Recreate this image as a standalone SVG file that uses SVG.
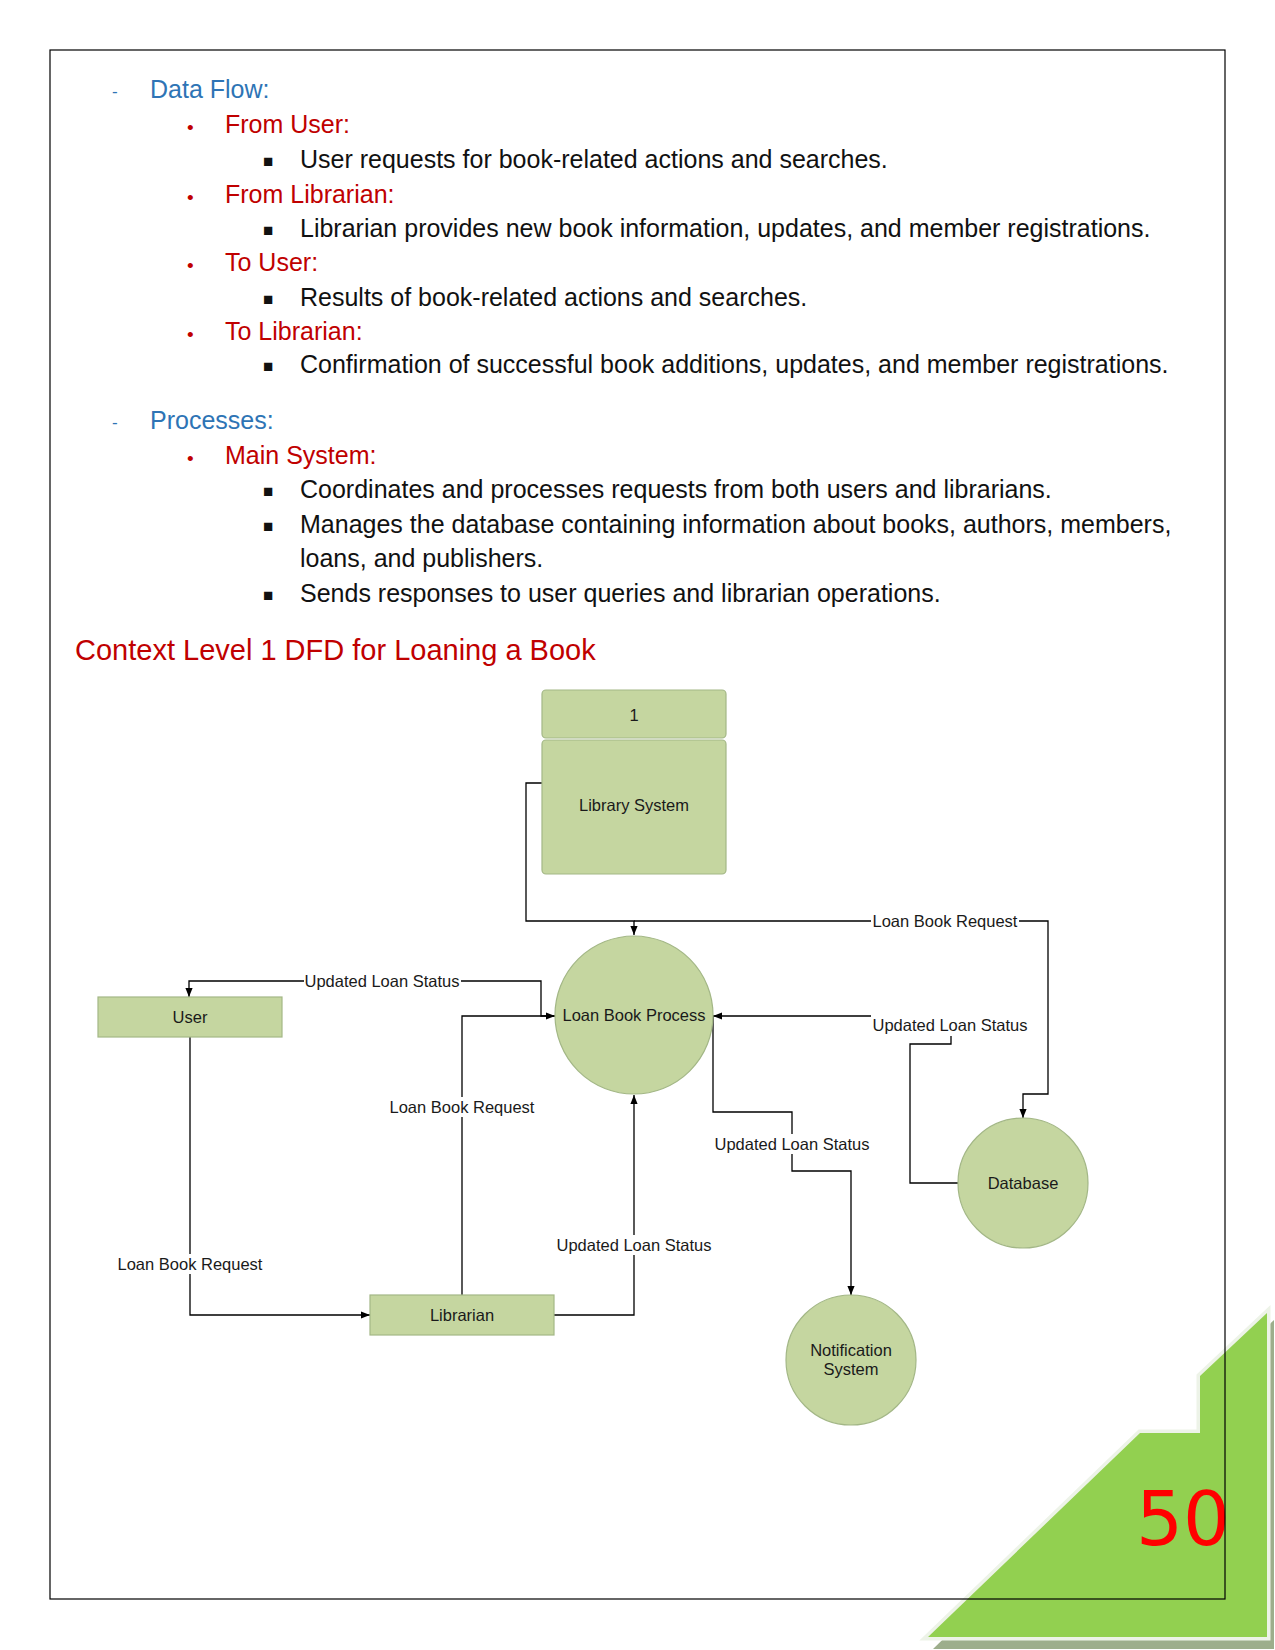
<svg xmlns="http://www.w3.org/2000/svg" width="1275" height="1650" viewBox="0 0 1275 1650">
<style>
  .h { font-family: "Liberation Sans", Arial, sans-serif; font-size: 25px; fill: #2E74B5; }
  .hd { font-family: "Liberation Sans", Arial, sans-serif; font-size: 17px; fill: #2E74B5; }
  .s { font-family: "Liberation Sans", Arial, sans-serif; font-size: 25px; fill: #C00000; }
  .sd { font-family: "Liberation Sans", Arial, sans-serif; font-size: 19px; fill: #C00000; }
  .b { font-family: "Liberation Sans", Arial, sans-serif; font-size: 25px; fill: #111111; }
  .sq { font-family: "Liberation Sans", Arial, sans-serif; font-size: 17px; fill: #111111; }
  .title { font-family: "Liberation Sans", Arial, sans-serif; font-size: 29px; fill: #C00000; }
  .n { font-family: "Liberation Sans", Arial, sans-serif; font-size: 16.5px; fill: #1a1a1a; text-anchor: middle; }
  .box { fill: #C5D6A0; stroke: #A3B786; stroke-width: 1.2; }
  .wire { fill: none; stroke: #000; stroke-width: 1.3; }
  .lbg { fill: #ffffff; }
  .pg { font-family: "DejaVu Sans", sans-serif; font-size: 74px; fill: #FF0000; }
</style>
<defs>
  <marker id="arr" viewBox="0 0 10 10" refX="10" refY="5" markerWidth="9" markerHeight="9" markerUnits="userSpaceOnUse" orient="auto">
    <path d="M0,1 L10,5 L0,9 z" fill="#000"/>
  </marker>
</defs>
<rect x="0" y="0" width="1275" height="1650" fill="#ffffff"/>

<!-- corner decoration -->
<g id="corner">
  <polygon points="1274,1320 1274,1649 933,1649 1146,1441 1206,1441 1206,1384" fill="#9DAE8C"/>
  <polygon points="1267,1313 1267,1637 928,1637 1140,1433 1200,1433 1200,1376" fill="#92D050" stroke="#EDF3E8" stroke-width="7" stroke-linejoin="miter"/>
  <polygon points="1267,1313 1267,1637 928,1637 1140,1433 1200,1433 1200,1376" fill="#92D050"/>
  <text class="pg" x="1136" y="1545">50</text>
</g>

<rect x="50" y="50" width="1175" height="1549" fill="none" stroke="#000" stroke-width="1.2"/>

<!-- text block -->
<g id="text">
  <text class="hd" x="112" y="97">-</text>
  <text class="h" x="150" y="98">Data Flow:</text>
  <text class="sd" x="187" y="134">•</text>
  <text class="s" x="225" y="133">From User:</text>
  <text class="sq" x="263" y="167">■</text>
  <text class="b" x="300" y="168">User requests for book-related actions and searches.</text>
  <text class="sd" x="187" y="204">•</text>
  <text class="s" x="225" y="203">From Librarian:</text>
  <text class="sq" x="263" y="236">■</text>
  <text class="b" x="300" y="237">Librarian provides new book information, updates, and member registrations.</text>
  <text class="sd" x="187" y="272">•</text>
  <text class="s" x="225" y="271">To User:</text>
  <text class="sq" x="263" y="305">■</text>
  <text class="b" x="300" y="306">Results of book-related actions and searches.</text>
  <text class="sd" x="187" y="341">•</text>
  <text class="s" x="225" y="340">To Librarian:</text>
  <text class="sq" x="263" y="372">■</text>
  <text class="b" x="300" y="373">Confirmation of successful book additions, updates, and member registrations.</text>

  <text class="hd" x="112" y="428">-</text>
  <text class="h" x="150" y="429">Processes:</text>
  <text class="sd" x="187" y="465">•</text>
  <text class="s" x="225" y="464">Main System:</text>
  <text class="sq" x="263" y="497">■</text>
  <text class="b" x="300" y="498">Coordinates and processes requests from both users and librarians.</text>
  <text class="sq" x="263" y="532">■</text>
  <text class="b" x="300" y="533">Manages the database containing information about books, authors, members,</text>
  <text class="b" x="300" y="567">loans, and publishers.</text>
  <text class="sq" x="263" y="601">■</text>
  <text class="b" x="300" y="602">Sends responses to user queries and librarian operations.</text>

  <text class="title" x="75" y="660">Context Level 1 DFD for Loaning a Book</text>
</g>

<!-- connectors -->
<g id="connectors">
  <path class="wire" d="M542,783 H526 V921 H634 V935" marker-end="url(#arr)"/>
  <path class="wire" d="M634,921 H1048 V1094 H1023 V1118" marker-end="url(#arr)"/>
  <path class="wire" d="M555,1016 H541 V981 H189 V997" marker-end="url(#arr)"/>
  <path class="wire" d="M462,1295 V1016 H555" marker-end="url(#arr)"/>
  <path class="wire" d="M190,1037 V1315 H370" marker-end="url(#arr)"/>
  <path class="wire" d="M554,1315 H634 V1095" marker-end="url(#arr)"/>
  <path class="wire" d="M958,1183 H910 V1044 H951 V1016 H713" marker-end="url(#arr)"/>
  <path class="wire" d="M713,1016 V1112 H792 V1171 H851 V1295" marker-end="url(#arr)"/>

  <rect class="lbg" x="871" y="911" width="148" height="20"/>
  <text class="n" x="945" y="927">Loan Book Request</text>
  <rect class="lbg" x="304" y="971" width="157" height="20"/>
  <text class="n" x="382" y="987">Updated Loan Status</text>
  <rect class="lbg" x="388" y="1097" width="148" height="20"/>
  <text class="n" x="462" y="1113">Loan Book Request</text>
  <rect class="lbg" x="116" y="1254" width="148" height="20"/>
  <text class="n" x="190" y="1270">Loan Book Request</text>
  <rect class="lbg" x="555" y="1235" width="157" height="20"/>
  <text class="n" x="634" y="1251">Updated Loan Status</text>
  <rect class="lbg" x="871" y="1015" width="158" height="21"/>
  <text class="n" x="950" y="1031">Updated Loan Status</text>
  <rect class="lbg" x="713" y="1134" width="157" height="20"/>
  <text class="n" x="792" y="1150">Updated Loan Status</text>
</g>

<!-- nodes -->
<g id="library-system">
  <rect class="box" x="542" y="690" width="184" height="48" rx="4"/>
  <rect class="box" x="542" y="740" width="184" height="134" rx="4"/>
  <text class="n" x="634" y="721">1</text>
  <text class="n" x="634" y="811">Library System</text>
</g>
<g id="loan-book-process">
  <circle class="box" cx="634" cy="1015" r="79"/>
  <text class="n" x="634" y="1021">Loan Book Process</text>
</g>
<g id="user">
  <rect class="box" x="98" y="997" width="184" height="40"/>
  <text class="n" x="190" y="1023">User</text>
</g>
<g id="librarian">
  <rect class="box" x="370" y="1295" width="184" height="40"/>
  <text class="n" x="462" y="1321">Librarian</text>
</g>
<g id="database">
  <circle class="box" cx="1023" cy="1183" r="65"/>
  <text class="n" x="1023" y="1189">Database</text>
</g>
<g id="notification-system">
  <circle class="box" cx="851" cy="1360" r="65"/>
  <text class="n" x="851" y="1356">Notification</text>
  <text class="n" x="851" y="1375">System</text>
</g>
</svg>
